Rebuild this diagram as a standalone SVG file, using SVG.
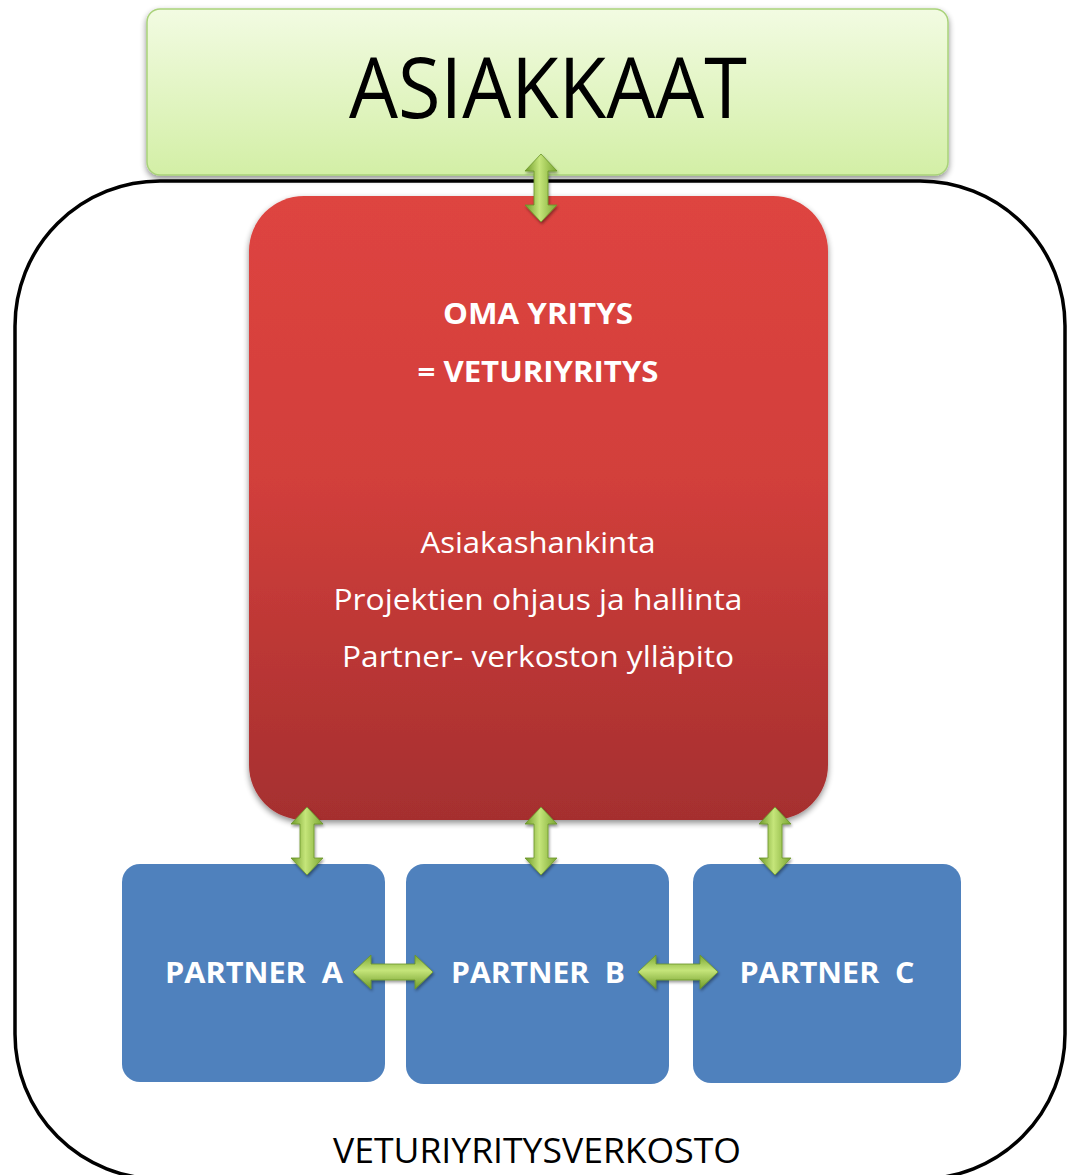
<svg xmlns="http://www.w3.org/2000/svg" width="1069" height="1175" viewBox="0 0 1069 1175">
  <defs>
    <linearGradient id="gGreenBox" x1="0" y1="0" x2="0" y2="1">
      <stop offset="0" stop-color="#f2fbe2"/>
      <stop offset="1" stop-color="#d3efa6"/>
    </linearGradient>
    <linearGradient id="gRed" x1="0" y1="0" x2="0" y2="1">
      <stop offset="0" stop-color="#de4440"/>
      <stop offset="0.45" stop-color="#d23f3b"/>
      <stop offset="1" stop-color="#a52f2f"/>
    </linearGradient>
    <linearGradient id="gArrowV" x1="0" y1="0" x2="1" y2="0">
      <stop offset="0" stop-color="#6e9a28"/>
      <stop offset="0.45" stop-color="#c5e57a"/>
      <stop offset="1" stop-color="#7aa632"/>
    </linearGradient>
    <linearGradient id="gArrowH" x1="0" y1="0" x2="0" y2="1">
      <stop offset="0" stop-color="#7aa632"/>
      <stop offset="0.45" stop-color="#c5e57a"/>
      <stop offset="1" stop-color="#6e9a28"/>
    </linearGradient>
    <filter id="shadow" x="-10%" y="-10%" width="120%" height="125%">
      <feGaussianBlur in="SourceAlpha" stdDeviation="3"/>
      <feOffset dx="0" dy="3" result="b"/>
      <feComponentTransfer><feFuncA type="linear" slope="0.45"/></feComponentTransfer>
      <feMerge><feMergeNode/><feMergeNode in="SourceGraphic"/></feMerge>
    </filter>
    <filter id="ashadow" x="-30%" y="-30%" width="160%" height="160%">
      <feGaussianBlur in="SourceAlpha" stdDeviation="1.5"/>
      <feOffset dx="1" dy="2" result="b"/>
      <feComponentTransfer><feFuncA type="linear" slope="0.4"/></feComponentTransfer>
      <feMerge><feMergeNode/><feMergeNode in="SourceGraphic"/></feMerge>
    </filter>
    <!-- double-headed arrows, centred on the origin -->
    <path id="arrowV" d="M0,-34 L16,-17 L7,-17 L7,17 L16,17 L0,34 L-16,17 L-7,17 L-7,-17 L-16,-17 Z"/>
    <path id="arrowH" d="M-40,0 L-22,-17 L-22,-8 L22,-8 L22,-17 L40,0 L22,17 L22,8 L-22,8 L-22,17 Z"/>
  </defs>
  <style>
    .sans { font-family: "Open Sans", "Liberation Sans", "DejaVu Sans", sans-serif; }
    .white { fill: #ffffff; }
    .bold { font-weight: bold; }
    .partner { fill: #4f81bd; }
    .av { fill: url(#gArrowV); stroke: #6a9528; stroke-width: 0.8; filter: url(#ashadow); }
    .ah { fill: url(#gArrowH); stroke: #6a9528; stroke-width: 0.8; filter: url(#ashadow); }
  </style>

  <rect width="1069" height="1175" fill="#ffffff"/>

  <!-- network frame (runs past the lower edge) -->
  <g id="verkosto">
    <rect x="15" y="181" width="1050" height="998" rx="145" ry="145" fill="none" stroke="#000000" stroke-width="3.5"/>
    <text class="sans" x="537" y="1163" font-size="34" text-anchor="middle" textLength="408" lengthAdjust="spacingAndGlyphs" fill="#000000">VETURIYRITYSVERKOSTO</text>
  </g>

  <!-- customers -->
  <g id="asiakkaat" filter="url(#shadow)">
    <rect x="147" y="9" width="801" height="166" rx="13" fill="url(#gGreenBox)" stroke="#a9d27a" stroke-width="1.5"/>
    <text class="sans" x="548" y="118" font-size="84" text-anchor="middle" textLength="398" lengthAdjust="spacingAndGlyphs" fill="#000000">ASIAKKAAT</text>
  </g>

  <!-- own company -->
  <g id="oma-yritys">
    <rect x="249" y="196" width="579" height="624" rx="55" fill="url(#gRed)" filter="url(#shadow)"/>
    <text class="sans white bold" x="538" y="324" font-size="29" text-anchor="middle" textLength="190" lengthAdjust="spacingAndGlyphs">OMA YRITYS</text>
    <text class="sans white bold" x="538" y="382" font-size="29" text-anchor="middle" textLength="241" lengthAdjust="spacingAndGlyphs">= VETURIYRITYS</text>
    <text class="sans white" x="538" y="553" font-size="29" text-anchor="middle" textLength="235" lengthAdjust="spacingAndGlyphs">Asiakashankinta</text>
    <text class="sans white" x="538" y="610" font-size="29" text-anchor="middle" textLength="409" lengthAdjust="spacingAndGlyphs">Projektien ohjaus ja hallinta</text>
    <text class="sans white" x="538" y="667" font-size="29" text-anchor="middle" textLength="392" lengthAdjust="spacingAndGlyphs">Partner- verkoston ylläpito</text>
  </g>

  <!-- partners -->
  <g id="partner-a">
    <rect class="partner" x="122" y="864" width="263" height="218" rx="18"/>
    <text class="sans white bold" x="254" y="983" font-size="29" text-anchor="middle" textLength="178" lengthAdjust="spacingAndGlyphs" xml:space="preserve">PARTNER  A</text>
  </g>
  <g id="partner-b">
    <rect class="partner" x="406" y="864" width="263" height="220" rx="18"/>
    <text class="sans white bold" x="538" y="983" font-size="29" text-anchor="middle" textLength="174" lengthAdjust="spacingAndGlyphs" xml:space="preserve">PARTNER  B</text>
  </g>
  <g id="partner-c">
    <rect class="partner" x="693" y="864" width="268" height="219" rx="18"/>
    <text class="sans white bold" x="827" y="983" font-size="29" text-anchor="middle" textLength="175" lengthAdjust="spacingAndGlyphs" xml:space="preserve">PARTNER  C</text>
  </g>

  <!-- connectors -->
  <g id="connectors">
    <use href="#arrowV" class="av" transform="translate(541,188)"/>
    <use href="#arrowV" class="av" transform="translate(307,841)"/>
    <use href="#arrowV" class="av" transform="translate(541,841)"/>
    <use href="#arrowV" class="av" transform="translate(775,841)"/>
    <use href="#arrowH" class="ah" transform="translate(393,972)"/>
    <use href="#arrowH" class="ah" transform="translate(678,972)"/>
  </g>
</svg>
